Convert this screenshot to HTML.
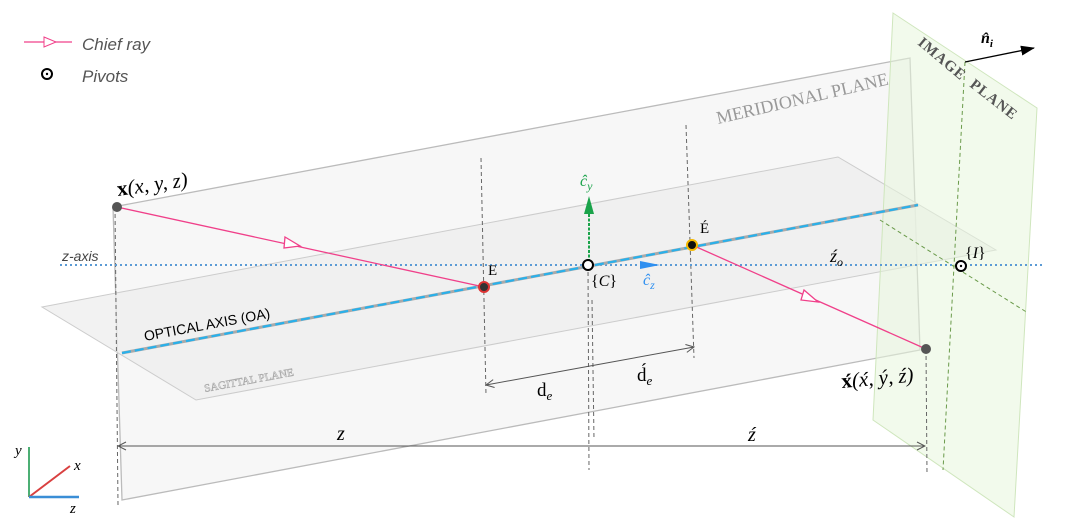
<!DOCTYPE html>
<html><head><meta charset="utf-8"><style>
body{margin:0;background:#fff}
svg{display:block;font-family:"Liberation Serif",serif}
.s{font-family:"Liberation Sans",sans-serif}
</style></head><body>
<svg width="1070" height="527" viewBox="0 0 1070 527">
<defs>
<marker id="oa" markerWidth="10" markerHeight="10" refX="9" refY="5" orient="auto" markerUnits="userSpaceOnUse"><path d="M1,1 L9,5 L1,9" fill="none" stroke="#555" stroke-width="1"/></marker>
<marker id="fa" markerWidth="14" markerHeight="10" refX="13" refY="5" orient="auto" markerUnits="userSpaceOnUse"><path d="M0,0 L14,5 L0,10Z" fill="#000"/></marker>
</defs>
<polygon points="113,207 910,58 920,350 122,500" fill="#f7f7f7" stroke="#bbb" stroke-width="1.3"/>
<text x="718" y="124" transform="rotate(-13 718 124)" font-size="18" fill="#999">MERIDIONAL PLANE</text>
<polygon points="42,307 838,157 996,250 196,400" fill="#eeeeee" fill-opacity="0.75" stroke="#ccc" stroke-width="1"/>
<text x="205" y="392" transform="rotate(-10.5 205 392)" font-size="11" fill="#fff" stroke="#aaa" stroke-width="0.6">SAGITTAL PLANE</text>
<polygon points="893,13 1037,108 1014,517 873,420" fill="#e8f5dc" fill-opacity="0.55" stroke="#cfe6bd" stroke-width="1"/>
<line x1="965" y1="62" x2="943" y2="470" stroke="#6a9a4a" stroke-dasharray="4,3"/>
<line x1="880" y1="220" x2="1028" y2="313" stroke="#6a9a4a" stroke-dasharray="4,3"/>
<text x="917" y="44" transform="rotate(40 917 44)" font-size="15" fill="#555" font-weight="bold" letter-spacing="1">IMAGE</text>
<text x="969" y="86" transform="rotate(38 969 86)" font-size="15" fill="#555" font-weight="bold" letter-spacing="1">PLANE</text>
<g stroke="#666" stroke-dasharray="4,3" stroke-width="1" fill="none">
<line x1="115" y1="207" x2="118" y2="505"/>
<line x1="481" y1="158" x2="486" y2="395"/>
<line x1="588" y1="265" x2="589" y2="470"/>
<line x1="592" y1="300" x2="594" y2="440"/>
<line x1="686" y1="125" x2="694" y2="358"/>
<line x1="926" y1="349" x2="927" y2="475"/>
</g>
<line x1="60" y1="265" x2="1045" y2="265" stroke="#5b9bd5" stroke-width="2" stroke-dasharray="2,3"/>
<text class="s" x="62" y="261" font-size="14" font-style="italic" fill="#444">z-axis</text>
<line x1="122" y1="353" x2="918" y2="205" stroke="#aaa" stroke-width="3"/>
<line x1="122" y1="353" x2="918" y2="205" stroke="#29b0ea" stroke-width="2.2" stroke-dasharray="9,4"/>
<text class="s" x="145" y="341" transform="rotate(-10.5 145 341)" font-size="14" fill="#000">OPTICAL AXIS (OA)</text>
<g stroke="#f0408a" stroke-width="1.3" fill="#fff">
<polyline points="117,207 484,287" fill="none"/>
<polyline points="692,245 926,349" fill="none"/>
<polygon points="285,237 300,246 284,248"/>
<polygon points="804,290 818,302 801,300"/>
</g>
<line x1="589" y1="262" x2="589" y2="200" stroke="#1aa34a" stroke-width="2" stroke-dasharray="3,1.5"/>
<polygon points="584,214 589,196 594,214" fill="#1aa34a"/>
<text x="580" y="186" font-size="16" font-style="italic" fill="#1aa34a">ĉ<tspan font-size="12" dy="4">y</tspan></text>
<polygon points="640,261 660,265 640,269" fill="#2e8ff0"/>
<text x="643" y="285" font-size="16" font-style="italic" fill="#2e8ff0">ĉ<tspan font-size="12" dy="4">z</tspan></text>
<line x1="965" y1="62" x2="1034" y2="48" stroke="#000" stroke-width="1.3" marker-end="url(#fa)"/>
<text x="981" y="43" font-size="16" font-weight="bold" font-style="italic">n̂<tspan font-size="11" dy="4">i</tspan></text>
<circle cx="117" cy="207" r="5" fill="#555"/>
<circle cx="484" cy="287" r="5" fill="#333" stroke="#d33" stroke-width="2"/>
<circle cx="588" cy="265" r="5" fill="#fff" stroke="#000" stroke-width="2"/>
<circle cx="692" cy="245" r="5" fill="#111" stroke="#f5b800" stroke-width="2"/>
<circle cx="926" cy="349" r="5" fill="#555"/>
<circle cx="961" cy="266" r="5" fill="#fff" stroke="#000" stroke-width="2"/>
<circle cx="961" cy="266" r="1.2" fill="#000"/>
<text x="118" y="196" font-size="21" transform="rotate(-8 118 196)"><tspan font-weight="bold">x</tspan><tspan font-style="italic">(x, y, z)</tspan></text>
<text x="488" y="275" font-size="15">E</text>
<text x="591" y="286" font-size="16">{<tspan font-style="italic">C</tspan>}</text>
<text x="700" y="233" font-size="15">É</text>
<text x="830" y="262" font-size="18" font-style="italic">ź<tspan font-size="12" dy="4">o</tspan></text>
<text x="965" y="258" font-size="16">{<tspan font-style="italic">I</tspan>}</text>
<text x="842" y="388" font-size="21" transform="rotate(-5 842 388)"><tspan font-weight="bold">x́</tspan><tspan font-style="italic">(x́, ý, ź)</tspan></text>
<line x1="590" y1="366" x2="486" y2="385" stroke="#555" marker-end="url(#oa)"/>
<line x1="590" y1="366" x2="694" y2="347" stroke="#555" marker-end="url(#oa)"/>
<text x="537" y="396" font-size="19">d<tspan font-size="13" font-style="italic" dy="4">e</tspan></text>
<text x="637" y="381" font-size="19">d́<tspan font-size="13" font-style="italic" dy="4">e</tspan></text>
<line x1="588" y1="446" x2="118" y2="446" stroke="#555" marker-end="url(#oa)"/>
<line x1="588" y1="446" x2="925" y2="446" stroke="#555" marker-end="url(#oa)"/>
<text x="337" y="440" font-size="20" font-style="italic">z</text>
<text x="748" y="441" font-size="20" font-style="italic">ź</text>
<line x1="24" y1="42" x2="72" y2="42" stroke="#f0408a" stroke-width="1.3"/>
<polygon points="44,37 56,42 44,47" fill="#fff" stroke="#f0408a"/>
<text class="s" x="82" y="50" font-size="17" font-style="italic" fill="#555">Chief ray</text>
<circle cx="47" cy="74" r="5" fill="#fff" stroke="#000" stroke-width="2"/>
<circle cx="47" cy="74" r="1.2" fill="#000"/>
<text class="s" x="82" y="82" font-size="17" font-style="italic" fill="#555">Pivots</text>
<line x1="29" y1="497" x2="29" y2="447" stroke="#4caf74" stroke-width="2"/>
<line x1="29" y1="497" x2="70" y2="466" stroke="#d94040" stroke-width="2"/>
<line x1="29" y1="497" x2="79" y2="497" stroke="#3a8ed6" stroke-width="2.5"/>
<text x="15" y="455" font-size="15" font-style="italic">y</text>
<text x="74" y="470" font-size="15" font-style="italic">x</text>
<text x="70" y="513" font-size="15" font-style="italic">z</text>
</svg>
</body></html>
